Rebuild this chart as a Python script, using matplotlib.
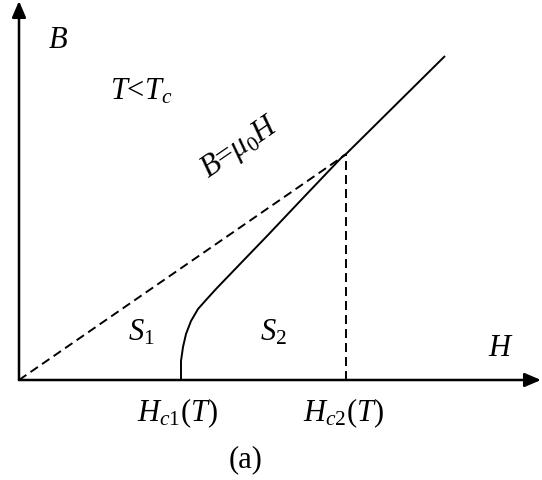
import matplotlib
matplotlib.use("Agg")
import matplotlib.pyplot as plt


# B-H diagram of a type II superconductor below T_c
mu_0 = 0.69
H_c1 = 1.62
H_c2 = 3.27

# magnetisation curve, from H_c1 up through H_c2 and beyond
H_curve = [1.62, 1.62, 1.64, 1.67, 1.72, 1.79, 1.87, 1.97, 2.22, 2.49,
           2.84, 3.24, 3.27, 4.26]
B_curve = [0.00, 0.19, 0.33, 0.46, 0.59, 0.71, 0.80, 0.91, 1.17, 1.45,
           1.82, 2.24, 2.26, 3.24]

H_max = 5.22
B_max = 3.79


def set_fonts():
    plt.rcParams["font.family"] = ["Liberation Serif", "DejaVu Serif"]
    plt.rcParams["mathtext.fontset"] = "custom"
    plt.rcParams["mathtext.rm"] = "Liberation Serif"
    plt.rcParams["mathtext.it"] = "Liberation Serif:italic"


def initialise_figure():
    fig = plt.figure(figsize=(5.42, 4.81), dpi=100)
    ax = fig.add_axes([0, 0, 1, 1])
    ax.set_xlim(-0.19, 5.23)
    ax.set_ylim(-1.00, 3.81)
    ax.axis("off")
    return fig, ax


def draw_axes(ax):
    arrow = dict(arrowstyle="-|>,head_length=0.7,head_width=0.3",
                 mutation_scale=14, lw=1.8, color="black",
                 shrinkA=0, shrinkB=0)
    ax.annotate("", xy=(H_max, 0), xytext=(0, 0), arrowprops=arrow)
    ax.annotate("", xy=(0, B_max), xytext=(0, 0), arrowprops=arrow)


def draw_lines(ax):
    dashed = dict(color="black", lw=1.4, linestyle=(0, (4.6, 2.6)))
    ax.plot([0, H_c2], [0, mu_0 * H_c2], **dashed)
    ax.plot([H_c2, H_c2], [0, mu_0 * H_c2], **dashed)
    ax.plot(H_curve, B_curve, color="black", lw=1.4,
            solid_capstyle="butt", solid_joinstyle="round")


def draw_labels(ax):
    size = 22
    ax.text(0.29, 3.33, "$B$", fontsize=size, ha="left", va="baseline")
    ax.text(0.91, 2.82, "$T$<$T_c$", fontsize=size, ha="left", va="baseline")
    ax.text(2.21, 2.33, r"$B$=$\mathit{\mu}_0H$", fontsize=size,
            rotation=34.5, rotation_mode="anchor", ha="center", va="center")
    ax.text(1.09, 0.40, "$S_1$", fontsize=size, ha="left", va="baseline")
    ax.text(2.41, 0.40, "$S_2$", fontsize=size, ha="left", va="baseline")
    ax.text(4.69, 0.25, "$H$", fontsize=size, ha="left", va="baseline")
    ax.text(H_c1 - 0.03, -0.40, "$H_{c1}(T)$", fontsize=size,
            ha="center", va="baseline")
    ax.text(H_c2 - 0.02, -0.40, "$H_{c2}(T)$", fontsize=size,
            ha="center", va="baseline")
    ax.text(2.27, -0.86, "(a)", fontsize=size, ha="center", va="baseline")


set_fonts()
fig, ax = initialise_figure()
draw_axes(ax)
draw_lines(ax)
draw_labels(ax)
fig.savefig("out.png", dpi=100)
